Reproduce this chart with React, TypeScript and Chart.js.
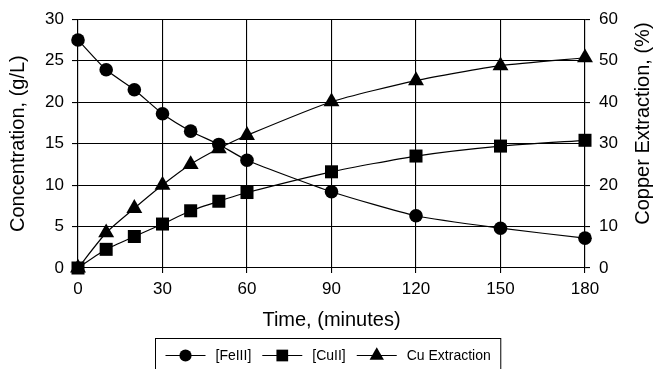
import React, { useEffect, useRef } from "react";
import { Chart, registerables } from "chart.js";

Chart.register(...registerables);

// ---- data ----
const TIMES = [0, 10, 20, 30, 40, 50, 60, 90, 120, 150, 180];
const FE3 = [27.5, 23.9, 21.5, 18.6, 16.5, 14.9, 13.0, 9.2, 6.3, 4.8, 3.6];
const CU2 = [0, 2.25, 3.8, 5.3, 6.9, 8.05, 9.1, 11.6, 13.5, 14.7, 15.4];
const CU_EXT = [0, 8.5, 14.4, 20.0, 25.0, 28.8, 32.0, 40.1, 45.2, 48.8, 50.7];

const SERIES_NAMES = ["[FeIII]", "[CuII]", "Cu Extraction"];
const X_TITLE = "Time, (minutes)";
const Y_TITLE = "Concentration, (g/L)";
const Y1_TITLE = "Copper Extraction, (%)";

const FONT = "'Liberation Sans', Arial, Helvetica, sans-serif";
const TICK_SIZE = 17;
const TITLE_SIZE = 20;
const LEGEND_SIZE = 14;

function drawMarker(ctx: CanvasRenderingContext2D, style: string, x: number, y: number, r: number) {
  ctx.beginPath();
  if (style === "circle") {
    ctx.arc(x, y, r, 0, Math.PI * 2);
  } else if (style === "rect") {
    const s = Math.SQRT1_2 * r;
    ctx.rect(x - s, y - s, 2 * s, 2 * s);
  } else if (style === "triangle") {
    const w = r * Math.sin((2 * Math.PI) / 3);
    ctx.moveTo(x, y - r);
    ctx.lineTo(x + w, y + r / 2);
    ctx.lineTo(x - w, y + r / 2);
    ctx.closePath();
  }
  ctx.fill();
}

const boxLegendPlugin = {
  id: "boxLegend",
  afterDraw(chart: any) {
    const ctx: CanvasRenderingContext2D = chart.ctx;
    const xs = chart.scales.x;
    ctx.save();
    ctx.font = `${LEGEND_SIZE}px ${FONT}`;
    const lineLen = 40;
    const gapText = 10;
    const gapItem = 11;
    const pad = 10;
    const items = chart.data.datasets.map((d: any) => ({
      label: d.label,
      style: d.pointStyle,
      r: d.pointRadius,
      w: ctx.measureText(d.label).width,
    }));
    let total = pad * 2;
    items.forEach((it: any, i: number) => {
      total += lineLen + gapText + it.w + (i > 0 ? gapItem : 0);
    });
    const boxL = Math.round(chart.width / 2 - total / 2) + 0.5;
    const boxT = xs.bottom + 0.5;
    ctx.strokeStyle = "#000";
    ctx.lineWidth = 1;
    ctx.strokeRect(boxL, boxT, total, 60);
    const cy = boxT + 17;
    let x = boxL + pad;
    ctx.fillStyle = "#000";
    ctx.textBaseline = "middle";
    ctx.textAlign = "left";
    items.forEach((it: any, i: number) => {
      if (i > 0) x += gapItem;
      ctx.beginPath();
      ctx.moveTo(x, cy);
      ctx.lineTo(x + lineLen, cy);
      ctx.lineWidth = 1.2;
      ctx.stroke();
      drawMarker(ctx, it.style, x + lineLen / 2, cy, it.r * 0.9);
      x += lineLen + gapText;
      ctx.fillText(it.label, x, cy + 1);
      x += it.w;
    });
    ctx.restore();
  },
};

const rightTitlePlugin = {
  id: "rightTitle",
  afterDraw(chart: any) {
    const s = chart.scales.y1;
    const ctx: CanvasRenderingContext2D = chart.ctx;
    ctx.save();
    ctx.font = `${TITLE_SIZE}px ${FONT}`;
    ctx.fillStyle = "#000";
    ctx.textAlign = "center";
    ctx.textBaseline = "middle";
    ctx.translate(s.right - 13, (chart.chartArea.top + chart.chartArea.bottom) / 2 - 20);
    ctx.rotate(-Math.PI / 2);
    ctx.fillText(Y1_TITLE, 0, 0);
    ctx.restore();
  },
};

function toPoints(ys: number[]) {
  return TIMES.map((t, i) => ({ x: t, y: ys[i] }));
}

export default function App() {
  const ref = useRef<HTMLCanvasElement | null>(null);
  useEffect(() => {
    if (!ref.current) return;
    Chart.defaults.font.family = FONT;
    Chart.defaults.color = "#000";
    const common = {
      borderColor: "#000",
      backgroundColor: "#000",
      pointBackgroundColor: "#000",
      pointBorderColor: "#000",
      borderWidth: 1.2,
      pointBorderWidth: 0,
      tension: 0.2,
      clip: false as any,
    };
    const chart = new Chart(ref.current, {
      type: "line",
      data: {
        datasets: [
          { ...common, label: SERIES_NAMES[0], data: toPoints(FE3), pointStyle: "circle", pointRadius: 6.8, yAxisID: "y" },
          { ...common, label: SERIES_NAMES[1], data: toPoints(CU2), pointStyle: "rect", pointRadius: 9.2, yAxisID: "y" },
          { ...common, label: SERIES_NAMES[2], data: toPoints(CU_EXT), pointStyle: "triangle", pointRadius: 9.2, yAxisID: "y1" },
        ],
      },
      options: {
        responsive: false,
        animation: false,
        events: [],
        layout: { padding: { top: 18, bottom: 31, left: 0, right: 0 } },
        plugins: {
          legend: { display: false },
          tooltip: { enabled: false },
        },
        scales: {
          x: {
            type: "linear",
            min: 0,
            max: 180,
            ticks: { stepSize: 30, font: { size: TICK_SIZE }, padding: 6, color: "#000", maxRotation: 0 },
            grid: { color: "#000", lineWidth: 1.1, tickLength: 5 },
            border: { color: "#000", width: 1.1 },
            title: { display: true, text: X_TITLE, font: { size: TITLE_SIZE }, color: "#000", padding: { top: 6, bottom: 6 } },
            afterFit(s: any) { s.height = 70; },
          },
          y: {
            position: "left",
            min: 0,
            max: 30,
            ticks: { stepSize: 5, font: { size: TICK_SIZE }, padding: 8, color: "#000" },
            grid: { color: "#000", lineWidth: 1.1, tickLength: 6 },
            border: { color: "#000", width: 1.1 },
            title: { display: true, text: Y_TITLE, font: { size: TITLE_SIZE }, color: "#000", padding: { top: 6, bottom: 0 } },
            afterFit(s: any) { s.width = 78; },
          },
          y1: {
            position: "right",
            min: 0,
            max: 60,
            ticks: { stepSize: 10, font: { size: TICK_SIZE }, padding: 9, color: "#000" },
            grid: { color: "#000", lineWidth: 1.1, tickLength: 5, drawOnChartArea: false },
            border: { color: "#000", width: 1.1 },
            afterFit(s: any) { s.width = 71; },
          },
        },
      },
      plugins: [boxLegendPlugin, rightTitlePlugin],
    } as any);
    return () => chart.destroy();
  }, []);
  return (
    <div style={{ position: "absolute", left: 0, top: 0, width: 656, height: 369, background: "#fff" }}>
      <canvas ref={ref} width={656} height={369} style={{ width: 656, height: 369, display: "block" }} />
    </div>
  );
}
